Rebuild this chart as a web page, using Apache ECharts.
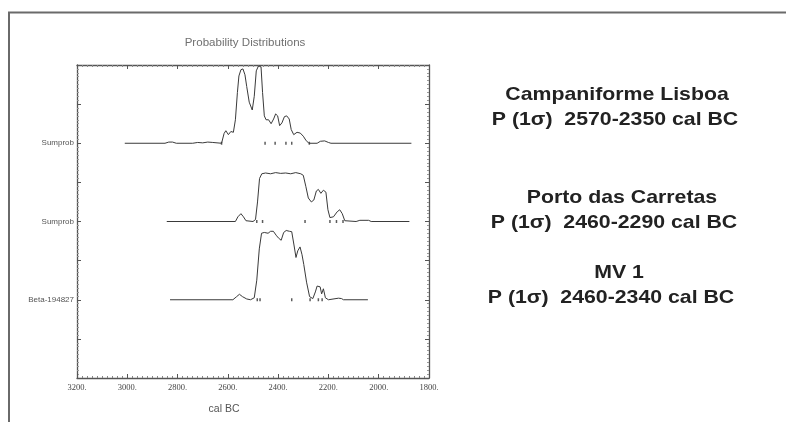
<!DOCTYPE html>
<html>
<head>
<meta charset="utf-8">
<script src="https://cdn.jsdelivr.net/npm/echarts@6/dist/echarts.min.js"></script>
<style>
html,body{margin:0;padding:0;background:#fff;}
#c{width:786px;height:422px;}
</style>
</head>
<body>
<div id="c"></div>
<script>
// ---- data ----
var xTicks = [3200, 3000, 2800, 2600, 2400, 2200, 2000, 1800];
var yTickLabels = {2: 'Beta-194827', 4: 'Sumprob', 6: 'Sumprob'};
var curveBaselines = [6, 4, 2];

var lisboaYears = [3010,2850,2835,2820,2805,2740,2720,2700,2680,2660,2625,2615,2608,2598,2588,2578,2570,2562,2556,2548,2540,2532,2525,2515,2503,2495,2487,2478,2468,2462,2455,2448,2438,2428,2418,2410,2402,2394,2385,2375,2366,2356,2348,2338,2325,2312,2300,2290,2278,2245,2232,2215,2200,2190,1870];
var lisboaProb  = [0,0,0.03,0.03,0,0,0.02,0.01,0.03,0.02,0,0.25,0.32,0.22,0.3,0.28,0.6,1.3,1.72,1.88,1.9,1.75,1.45,1.05,0.85,1.2,1.85,1.98,1.95,1.3,0.7,0.6,0.6,0.5,0.62,0.75,0.7,0.45,0.52,0.68,0.7,0.62,0.35,0.22,0.28,0.26,0.18,0.08,0,0,0.05,0.06,0.02,0,0];

var portoYears = [2843,2570,2560,2548,2538,2528,2500,2490,2482,2474,2465,2450,2430,2410,2390,2370,2350,2330,2310,2300,2290,2280,2268,2258,2248,2240,2230,2220,2210,2202,2194,2180,2165,2155,2145,2135,2090,2075,2040,2030,1878];
var portoProb  = [0,0,0.12,0.2,0.12,0.02,0,0.05,0.5,1.1,1.22,1.24,1.22,1.25,1.23,1.24,1.22,1.25,1.22,1.18,0.9,0.6,0.5,0.55,0.78,0.82,0.72,0.8,0.75,0.3,0.1,0.12,0.25,0.3,0.2,0.02,0,0.03,0.03,0,0];

var betaYears = [2830,2580,2565,2554,2542,2525,2510,2495,2485,2475,2466,2455,2440,2430,2419,2408,2399,2388,2378,2368,2355,2346,2337,2329,2322,2313,2305,2298,2287,2275,2262,2252,2245,2233,2227,2220,2212,2200,2160,2148,2140,2043];
var betaProb  = [0,0,0.08,0.14,0.08,0.02,0,0.05,0.5,1.3,1.7,1.72,1.7,1.75,1.75,1.65,1.58,1.52,1.72,1.77,1.75,1.74,1.4,1.08,1.25,1.35,1.15,0.9,0.45,0.08,0.03,0.2,0.35,0.33,0.15,0.28,0.05,0,0.04,0.03,0,0];

// sigma range tick marks on each baseline
var lisboaRangeTicks = [2625, 2452, 2412, 2369, 2346, 2276];
var portoRangeTicks  = [2485, 2462, 2293, 2194, 2168, 2142];
var betaRangeTicks   = [2483, 2472, 2346, 2273, 2240, 2225];

var titleText = 'Probability Distributions';
var xName = 'cal BC';
var sideTexts = [
  ['Campaniforme Lisboa', 617, 95],
  ['P (1\u03c3)  2570-2350 cal BC', 615, 120],
  ['Porto das Carretas', 622, 198],
  ['P (1\u03c3)  2460-2290 cal BC', 614, 223],
  ['MV 1', 619, 273],
  ['P (1\u03c3)  2460-2340 cal BC', 611, 298]
];

// ---- build ----
function pairs(years, prob, base) {
  return years.map(function (y, i) { return [y, base + prob[i]]; });
}
function tickPairs(years, base) {
  return years.map(function (y) { return [y, base]; });
}

var axisColor = '#555';
function xAxisCfg(pos, showLabel) {
  return {
    type: 'value', position: pos, min: 1800, max: 3200, interval: 200, inverse: true,
    axisLine: {show: true, onZero: false, lineStyle: {color: axisColor, width: 1.3}},
    axisTick: {show: true, inside: true, length: 4, lineStyle: {color: axisColor}},
    minorTick: {show: true, splitNumber: 10, length: 2, lineStyle: {color: '#888'}},
    splitLine: {show: false},
    axisLabel: {show: showLabel, formatter: function (v) { return v + '.'; },
      fontFamily: 'Liberation Serif', fontSize: 8.5, color: '#444', margin: 5}
  };
}
function yAxisCfg(pos, showLabel) {
  return {
    type: 'value', position: pos, min: 0, max: 8, interval: 1,
    axisLine: {show: true, onZero: false, lineStyle: {color: axisColor, width: 1.3}},
    axisTick: {show: true, inside: true, length: 4, lineStyle: {color: axisColor}},
    minorTick: {show: true, splitNumber: 10, length: 2, lineStyle: {color: '#999'}},
    splitLine: {show: false},
    axisLabel: {show: showLabel, formatter: function (v) { return yTickLabels[v] || ''; },
      fontFamily: 'Liberation Sans', fontSize: 8, color: '#555', margin: 3}
  };
}

var lineStyle = {color: '#3a3a3a', width: 1};
var curves = [[lisboaYears, lisboaProb], [portoYears, portoProb], [betaYears, betaProb]];
var rangeTicks = [lisboaRangeTicks, portoRangeTicks, betaRangeTicks];
var series = [];
curves.forEach(function (c, k) {
  series.push({
    type: 'line', data: pairs(c[0], c[1], curveBaselines[k]), showSymbol: false,
    lineStyle: lineStyle, smooth: false, silent: true, z: 3
  });
  series.push({
    type: 'scatter', data: tickPairs(rangeTicks[k], curveBaselines[k]),
    symbol: 'rect', symbolSize: [1.5, 3], itemStyle: {color: '#333'}, silent: true, z: 4
  });
});

var graphics = [
  {type: 'polyline', shape: {points: [[9, 422], [9, 12.5], [786, 12.5]]},
   style: {stroke: '#6a6a6a', lineWidth: 2, fill: null}},
  {type: 'text', x: 245, y: 43, scaleX: 1.05,
   style: {text: titleText, font: '11px "Liberation Sans"', fill: '#707070', textAlign: 'center', textVerticalAlign: 'middle'}},
  {type: 'text', x: 224, y: 409,
   style: {text: xName, font: '10.5px "Liberation Sans"', fill: '#555', textAlign: 'center', textVerticalAlign: 'middle'}}
];
sideTexts.forEach(function (t) {
  graphics.push({type: 'text', x: t[1], y: t[2], scaleX: 1.12,
    style: {text: t[0], font: 'bold 19px "Liberation Sans"', fill: '#222', textAlign: 'center', textVerticalAlign: 'middle'}});
});

var chart = echarts.init(document.getElementById('c'), null, {renderer: 'canvas'});
chart.setOption({
  animation: false,
  backgroundColor: '#fff',
  grid: {left: 77, right: 357, top: 65, bottom: 44, containLabel: false},
  xAxis: [xAxisCfg('bottom', true), xAxisCfg('top', false)],
  yAxis: [yAxisCfg('left', true), yAxisCfg('right', false)],
  series: series,
  graphic: graphics
});
</script>
</body>
</html>
